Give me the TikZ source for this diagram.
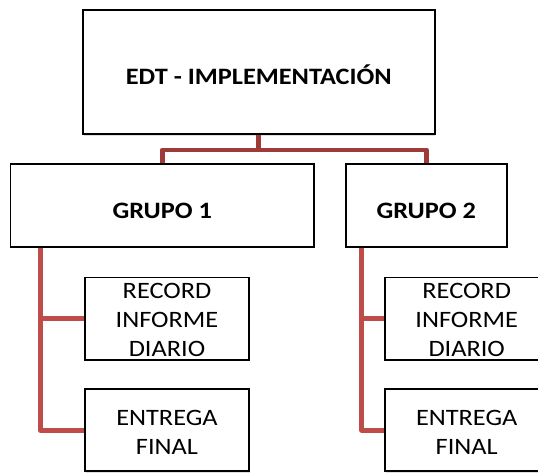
\documentclass[tikz,border=0pt]{standalone}
\usepackage{fontspec}
\setmainfont{Carlito}[FakeStretch=1.12]
\usetikzlibrary{shadows,calc}
\definecolor{conntop}{RGB}{158,58,56}
\definecolor{connlow}{RGB}{190,76,73}
\tikzset{
  box/.style={draw=black, line width=1.2pt, fill=white, inner sep=0pt,
    drop shadow={opacity=0.25, shadow xshift=1pt, shadow yshift=-1.5pt}},
  txt/.style={inner sep=0pt, align=center, font=\fontsize{23.5}{28.7}\selectfont},
  btxt/.style={txt, font=\fontsize{23.5}{28.7}\selectfont\bfseries},
  conn/.style={line width=4.8pt, line join=round},
}
\begin{document}
\begin{tikzpicture}[x=1pt, y=-1pt]
\useasboundingbox (0,0) rectangle (538,472);
\clip (0,0) rectangle (538,472);
% boxes
\node[box, minimum width=351pt, minimum height=124pt] (top) at (258.8,72) {};
\node[box, minimum width=303.3pt, minimum height=82.7pt] (g1) at (162.35,205.35) {};
\node[box, minimum width=160.7pt, minimum height=82.7pt] (g2) at (426.35,205.35) {};
\node[box, minimum width=163.4pt, minimum height=81.6pt] (r1) at (167,318.5) {};
\node[box, minimum width=163.4pt, minimum height=81.7pt] (e1) at (167,430.15) {};
\node[box, minimum width=163.4pt, minimum height=81.6pt] (r2) at (466.7,318.5) {};
\node[box, minimum width=163.4pt, minimum height=81.7pt] (e2) at (466.7,430.15) {};
% texts
\node[btxt] (ttop) at ($(top.center)+(0,3)$) {EDT - IMPLEMENTACIÓN};
\node[btxt] (tg1) at ($(g1.center)+(0,6)$) {GRUPO 1};
\node[btxt] (tg2) at ($(g2.center)+(0,6)$) {GRUPO 2};
\node[txt] (tr1) at ($(r1.center)+(0,1.5)$) {RECORD\\INFORME\\DIARIO};
\node[txt] (te1) at ($(e1.center)+(0,2)$) {ENTREGA\\FINAL};
\node[txt] (tr2) at ($(r2.center)+(0,1.5)$) {RECORD\\INFORME\\DIARIO};
\node[txt] (te2) at ($(e2.center)+(0,2)$) {ENTREGA\\FINAL};
% connectors
\coordinate (mid) at ($(top.south)+(0,15.3)$);
\coordinate (g1s) at ($(g1.south west)+(30,0)$);
\coordinate (g2s) at ($(g2.south west)+(16.3,0)$);
\draw[conn, draw=conntop] (top.south) -- (mid) -| (g1.north);
\draw[conn, draw=conntop] (mid) -| (g2.north);
\draw[conn, draw=connlow] (g1s) |- (e1.west);
\draw[conn, draw=connlow] (g1s) |- (r1.west);
\draw[conn, draw=connlow] (g2s) |- (e2.west);
\draw[conn, draw=connlow] (g2s) |- (r2.west);
% redraw box borders over connector ends
\foreach \b in {top,g1,g2,r1,e1,r2,e2}{
  \draw[black, line width=1.2pt] (\b.south west) rectangle (\b.north east);
}
\end{tikzpicture}
\end{document}
